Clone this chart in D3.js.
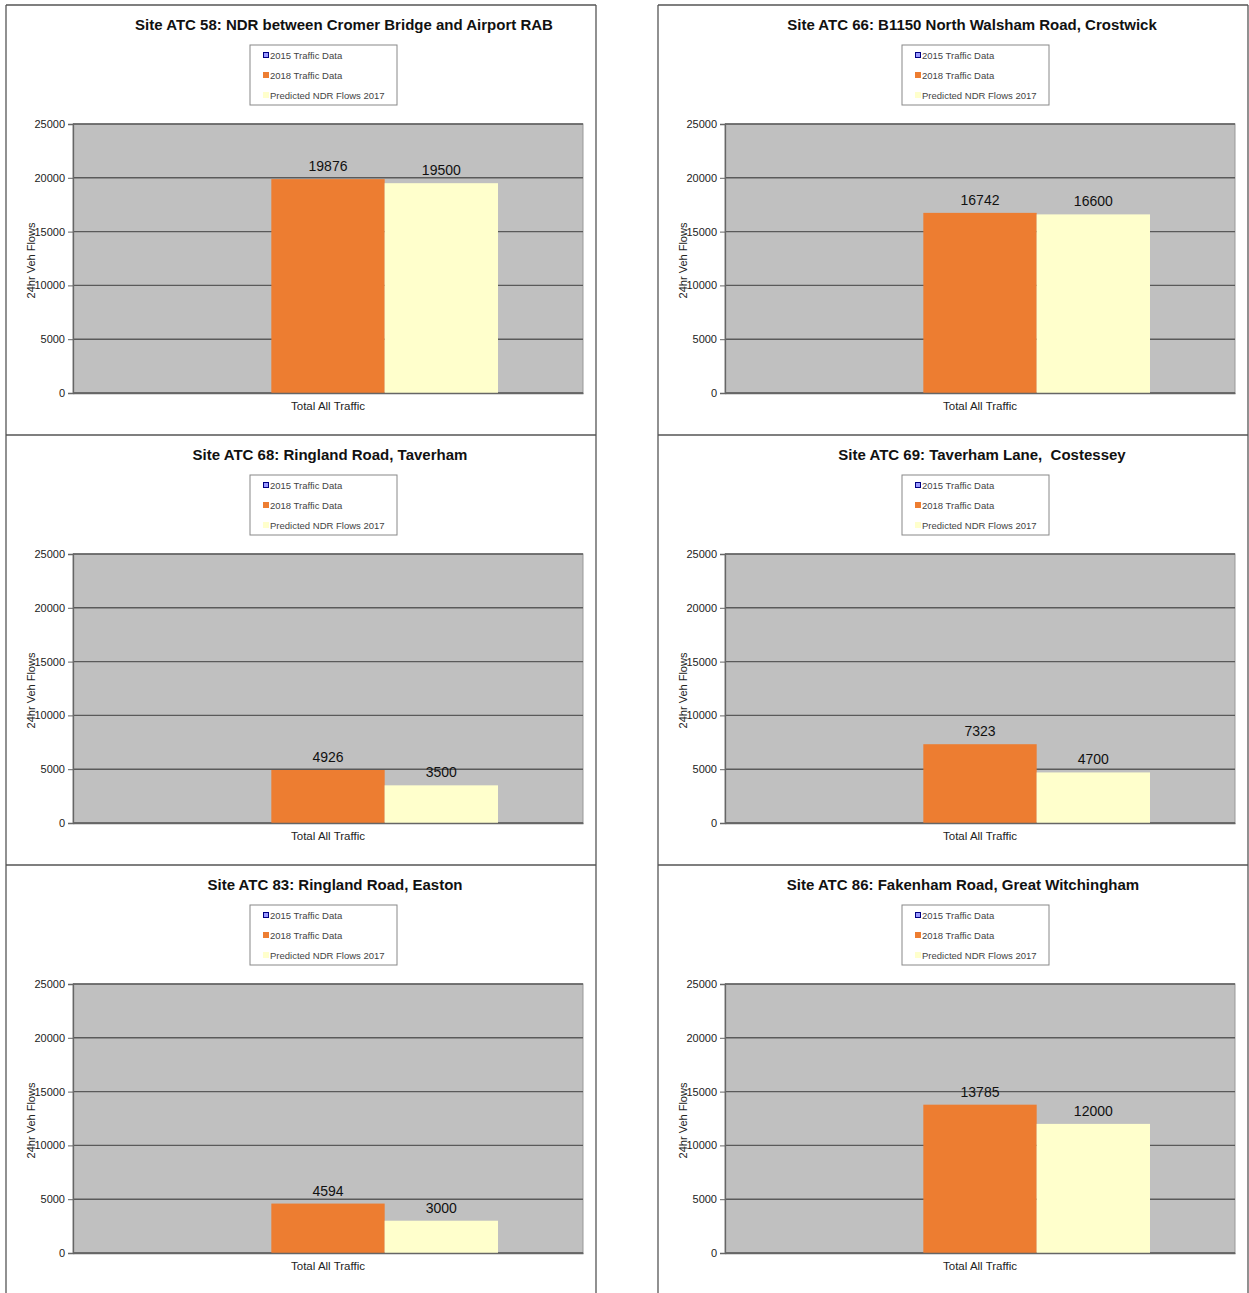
<!DOCTYPE html>
<html lang="en">
	<head>
		<meta charset="utf-8">
		<title>NDR site traffic flows</title>
		<script type="text/javascript" src="https://cdn.jsdelivr.net/npm/d3@7"></script>
		<style type="text/css">
			body { margin: 0; background: #fff; }
			text { font-family: Arial, "Liberation Sans", sans-serif; }
		</style>
	</head>
	<body>
		<script type="text/javascript">

			//Data
			var siteTitles = [
				"Site ATC 58: NDR between Cromer Bridge and Airport RAB",
				"Site ATC 66: B1150 North Walsham Road, Crostwick",
				"Site ATC 68: Ringland Road, Taverham",
				"Site ATC 69: Taverham Lane,  Costessey",
				"Site ATC 83: Ringland Road, Easton",
				"Site ATC 86: Fakenham Road, Great Witchingham"
			];
			var categories = ["Total All Traffic"];
			var seriesNames = ["2015 Traffic Data", "2018 Traffic Data", "Predicted NDR Flows 2017"];
			var flows2015 = [null, null, null, null, null, null];
			var flows2018 = [19876, 16742, 4926, 7323, 4594, 13785];
			var predicted2017 = [19500, 16600, 3500, 4700, 3000, 12000];
			var yTicks = [0, 5000, 10000, 15000, 20000, 25000];
			var yLabel = "24hr Veh Flows";

			var w = 1249;
			var h = 1293;
			var colors = ["#9999ff", "#ed7d31", "#ffffcc"];
			var legendStroke = ["#000080", "#ed7d31", "#ffffcc"];
			// title centres differ a little per chart in the original
			var titleX = [338, 314, 324, 324, 329, 305];

			var svg = d3.select("body")
						.append("svg")
						.attr("width", w)
						.attr("height", h);

			var plotX = 67, plotY = 119, plotW = 510, plotH = 269;

			var y = d3.scaleLinear().domain([0, 25000]).range([plotH, 0]);
			var x0 = d3.scaleBand().domain(categories).range([0, plotW]).paddingInner(0).paddingOuter(0.25);
			var x1 = d3.scaleBand().domain(seriesNames).range([0, x0.bandwidth()]);

			siteTitles.forEach(function(title, i) {
				var col = i % 2, row = Math.floor(i / 2);
				var px = 6 + col * 652, py = 5 + row * 430;
				var g = svg.append("g").attr("transform", "translate(" + px + "," + py + ")");

				//panel frame
				g.append("line").attr("x1", 0).attr("x2", 0).attr("y1", 0).attr("y2", 430)
					.attr("stroke", "#555").attr("stroke-width", 1.3);
				g.append("line").attr("x1", 590).attr("x2", 590).attr("y1", 0).attr("y2", 430)
					.attr("stroke", "#555").attr("stroke-width", 1.3);
				g.append("line").attr("x1", 0).attr("x2", 590).attr("y1", 0).attr("y2", 0)
					.attr("stroke", "#555").attr("stroke-width", 1.3);

				g.append("text")
					.attr("x", titleX[i]).attr("y", 24.5)
					.attr("text-anchor", "middle")
					.attr("font-size", "15px").attr("font-weight", "bold")
					.attr("fill", "#111")
					.style("white-space", "pre")
					.text(title);

				//legend
				var lg = g.append("g").attr("transform", "translate(244,40)");
				lg.append("rect").attr("width", 147).attr("height", 60)
					.attr("fill", "#fff").attr("stroke", "#888");
				seriesNames.forEach(function(s, k) {
					lg.append("rect").attr("x", 13.5).attr("y", 7.5 + k * 20)
						.attr("width", 5).attr("height", 5)
						.attr("fill", colors[k]).attr("stroke", legendStroke[k]).attr("stroke-width", 1);
					lg.append("text").attr("x", 20).attr("y", 13.5 + k * 20)
						.attr("font-size", "9.5px").attr("fill", "#444").text(s);
				});

				var p = g.append("g").attr("transform", "translate(" + plotX + "," + plotY + ")");
				p.append("rect").attr("width", plotW).attr("height", plotH)
					.attr("fill", "#c0c0c0").attr("stroke", "#999").attr("stroke-width", 1);

				p.selectAll("line.grid")
					.data(yTicks)
					.enter()
					.append("line")
					.attr("class", "grid")
					.attr("x1", 0).attr("x2", plotW)
					.attr("y1", function(d) { return y(d); })
					.attr("y2", function(d) { return y(d); })
					.attr("stroke", "#5a5a5a").attr("stroke-width", 1.4);

				var vals = [flows2015[i], flows2018[i], predicted2017[i]];
				var bars = vals.map(function(v, k) { return { name: seriesNames[k], value: v, k: k }; })
					.filter(function(d) { return d.value != null; });

				p.selectAll("rect.bar")
					.data(bars)
					.enter()
					.append("rect")
					.attr("class", "bar")
					.attr("x", function(d) { return x0(categories[0]) + x1(d.name); })
					.attr("y", function(d) { return y(d.value); })
					.attr("width", x1.bandwidth())
					.attr("height", function(d) { return plotH - y(d.value); })
					.attr("fill", function(d) { return colors[d.k]; });

				p.selectAll("text.val")
					.data(bars)
					.enter()
					.append("text")
					.attr("class", "val")
					.attr("x", function(d) { return x0(categories[0]) + x1(d.name) + x1.bandwidth() / 2; })
					.attr("y", function(d) { return y(d.value) - 8; })
					.attr("text-anchor", "middle")
					.attr("font-size", "14px").attr("fill", "#111")
					.text(function(d) { return d.value; });

				//axes
				var yAxis = d3.axisLeft(y).tickValues(yTicks).tickSize(5).tickPadding(3).tickFormat(d3.format("d"));
				var ya = p.append("g").call(yAxis);
				ya.select(".domain").attr("stroke", "#666").attr("stroke-width", 1.3);
				ya.selectAll(".tick line").attr("stroke", "#666");
				ya.selectAll(".tick text").attr("font-size", "11px").attr("fill", "#222")
					.style("font-family", "Arial, 'Liberation Sans', sans-serif");

				var xAxis = d3.axisBottom(x0).tickSize(0).tickPadding(9);
				var xa = p.append("g").attr("transform", "translate(0," + plotH + ")").call(xAxis);
				xa.select(".domain").attr("stroke", "#666").attr("stroke-width", 1.3);
				xa.selectAll(".tick text").attr("font-size", "11.5px").attr("fill", "#222")
					.style("font-family", "Arial, 'Liberation Sans', sans-serif");

				g.append("text")
					.attr("transform", "translate(29," + (plotY + plotH / 2 + 2) + ") rotate(-90)")
					.attr("text-anchor", "middle")
					.attr("font-size", "11px").attr("fill", "#222")
					.text(yLabel);
			});

		</script>
	</body>
</html>
